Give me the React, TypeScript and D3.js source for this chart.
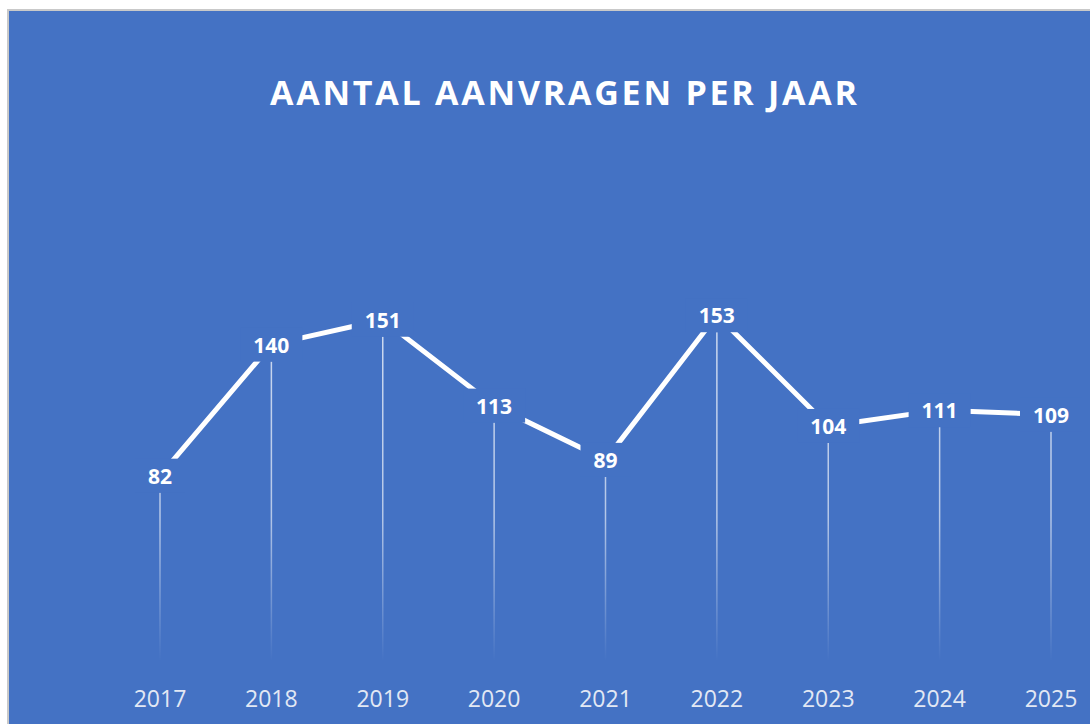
import React, { useEffect, useRef } from "react";
import * as d3 from "d3";

const years = ["2017", "2018", "2019", "2020", "2021", "2022", "2023", "2024", "2025"];
const aanvragen = [82, 140, 151, 113, 89, 153, 104, 111, 109];
const title = "AANTAL AANVRAGEN PER JAAR";

const BLUE = "#4472C4";

const App = () => {
  const ref = useRef<SVGSVGElement | null>(null);

  useEffect(() => {
    const svg = d3.select(ref.current);
    svg.selectAll("*").remove();

    const width = 1090;
    const height = 724;

    // chart frame
    svg.append("rect").attr("width", width).attr("height", height).attr("fill", "#ffffff");
    svg.append("rect").attr("x", 7).attr("y", 9).attr("width", width).attr("height", height).attr("fill", "#c9c9c9");
    svg.append("rect").attr("x", 9).attr("y", 11).attr("width", width).attr("height", height).attr("fill", BLUE);

    const x = d3.scalePoint<string>().domain(years).range([160, 1051]);
    const y = d3.scaleLinear().domain([0, 250]).range([661, 96]);

    const defs = svg.append("defs");
    const grad = defs
      .append("linearGradient")
      .attr("id", "dropFade")
      .attr("gradientUnits", "userSpaceOnUse")
      .attr("x1", 0)
      .attr("x2", 0)
      .attr("y1", y(160))
      .attr("y2", y(0));
    grad.append("stop").attr("offset", "0%").attr("stop-color", "#ffffff").attr("stop-opacity", 0.75);
    grad.append("stop").attr("offset", "60%").attr("stop-color", "#ffffff").attr("stop-opacity", 0.6);
    grad.append("stop").attr("offset", "100%").attr("stop-color", "#ffffff").attr("stop-opacity", 0);

    // title
    svg
      .append("text")
      .attr("x", 563.5)
      .attr("y", 105)
      .attr("text-anchor", "middle")
      .attr("textLength", 587)
      .attr("lengthAdjust", "spacing")
      .style("font-family", "'Open Sans', sans-serif")
      .style("font-weight", "bold")
      .style("font-size", "34px")
      .style("fill", "#ffffff")
      .text(title);

    const data = years.map((yr, i) => ({ year: yr, value: aanvragen[i] }));

    // drop lines
    svg
      .append("g")
      .selectAll("rect")
      .data(data)
      .join("rect")
      .attr("x", (d) => x(d.year)! - 0.75)
      .attr("y", (d) => y(d.value) + 17)
      .attr("width", 1.5)
      .attr("height", (d) => y(0) - y(d.value) - 17)
      .attr("fill", "url(#dropFade)");

    // line
    const line = d3
      .line<{ year: string; value: number }>()
      .x((d) => x(d.year)!)
      .y((d) => y(d.value));

    svg
      .append("path")
      .datum(data)
      .attr("d", line)
      .attr("fill", "none")
      .attr("stroke", "#ffffff")
      .attr("stroke-width", 5)
      .attr("stroke-linejoin", "round");

    // data labels with blue box
    const labels = svg.append("g").selectAll("g").data(data).join("g")
      .attr("transform", (d) => `translate(${x(d.year)},${y(d.value)})`);

    labels
      .append("rect")
      .attr("x", (d) => -(String(d.value).length * 6 + 13))
      .attr("y", -17)
      .attr("width", (d) => String(d.value).length * 12 + 26)
      .attr("height", 34)
      .attr("fill", BLUE);

    labels
      .append("text")
      .attr("y", 8)
      .attr("text-anchor", "middle")
      .style("font-family", "'Open Sans', sans-serif")
      .style("font-weight", "bold")
      .style("font-size", "21px")
      .style("fill", "#ffffff")
      .text((d) => d.value);

    // category labels
    svg
      .append("g")
      .selectAll("text")
      .data(years)
      .join("text")
      .attr("x", (d) => x(d)!)
      .attr("y", 707)
      .attr("text-anchor", "middle")
      .style("font-family", "'Open Sans', sans-serif")
      .style("font-size", "23px")
      .style("fill", "#e2e8f4")
      .text((d) => d);
  }, []);

  return (
    <svg
      ref={ref}
      width={1090}
      height={724}
      style={{ position: "absolute", left: 0, top: 0, display: "block" }}
    ></svg>
  );
};

export default App;
